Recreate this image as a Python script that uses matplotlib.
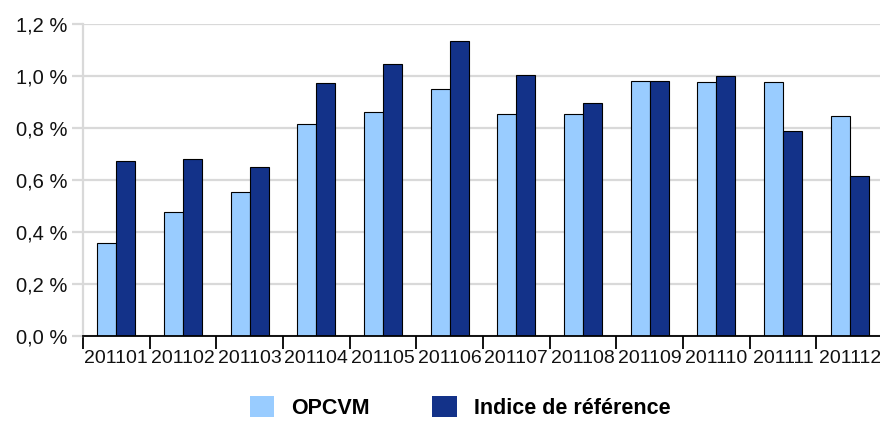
import numpy as np
import matplotlib
matplotlib.use("Agg")
import matplotlib.pyplot as plt
from matplotlib.patches import Patch
from matplotlib.ticker import FuncFormatter, MultipleLocator

plt.rcParams['font.family'] = ['Liberation Sans', 'DejaVu Sans']

# data (monthly, in %)
months = ["201101", "201102", "201103", "201104", "201105", "201106",
          "201107", "201108", "201109", "201110", "201111", "201112"]
opcvm = [0.359, 0.476, 0.553, 0.814, 0.863, 0.949,
         0.855, 0.854, 0.981, 0.977, 0.976, 0.846]
indice = [0.672, 0.680, 0.649, 0.972, 1.047, 1.133,
          1.004, 0.897, 0.982, 1.000, 0.790, 0.617]

c_light = "#99ccff"
c_dark = "#133289"
grid_col = "#d9d9d9"

fig = plt.figure(figsize=(8.8, 4.25), dpi=100)
ax = fig.add_axes([83/880, 1 - 336/425, 800/880, 312/425])

x = np.arange(len(months))
w = 0.285
ax.bar(x - w/2, opcvm, w, color=c_light, edgecolor="black", linewidth=0.8, zorder=3)
ax.bar(x + w/2, indice, w, color=c_dark, edgecolor="black", linewidth=0.8, zorder=3)

ax.set_xlim(-0.5, len(months) - 0.5)
ax.set_ylim(0, 1.2)

# y axis: gray gridlines that run out past the left spine like ticks
ax.yaxis.set_major_locator(MultipleLocator(0.2))
ax.yaxis.set_major_formatter(FuncFormatter(lambda v, p: f"{v:.1f} %".replace(".", ",")))
ax.grid(axis="y", color=grid_col, linewidth=1.6, zorder=0)
ax.tick_params(axis="y", length=8, width=1.6, color=grid_col, pad=3,
               labelsize=14.5, labelcolor="#111111")

# x axis: labels centred, tick marks between the months
ax.set_xticks(x)
ax.set_xticklabels(months)
ax.set_xticks(np.arange(-0.5, len(months)), minor=True)
ax.tick_params(axis="x", which="major", length=0, pad=10, labelsize=14,
               labelcolor="#111111")
ax.tick_params(axis="x", which="minor", length=9, width=1.3, color="black")

for s in ["top", "right"]:
    ax.spines[s].set_visible(False)
ax.spines["left"].set_color(grid_col)
ax.spines["left"].set_linewidth(1.6)
ax.spines["bottom"].set_color("black")
ax.spines["bottom"].set_linewidth(1.3)
ax.spines["bottom"].set_zorder(4)

handles = [Patch(facecolor=c_light, edgecolor="none"),
           Patch(facecolor=c_dark, edgecolor="none")]
fig.legend(handles, ["OPCVM", "Indice de référence"], ncol=2,
           loc="center", bbox_to_anchor=(0.523, 0.042), frameon=False,
           prop={"weight": "bold", "size": 15.5},
           handlelength=1.12, handleheight=1.12, handletextpad=0.8,
           columnspacing=2.9)

fig.savefig("out.png", dpi=100)
